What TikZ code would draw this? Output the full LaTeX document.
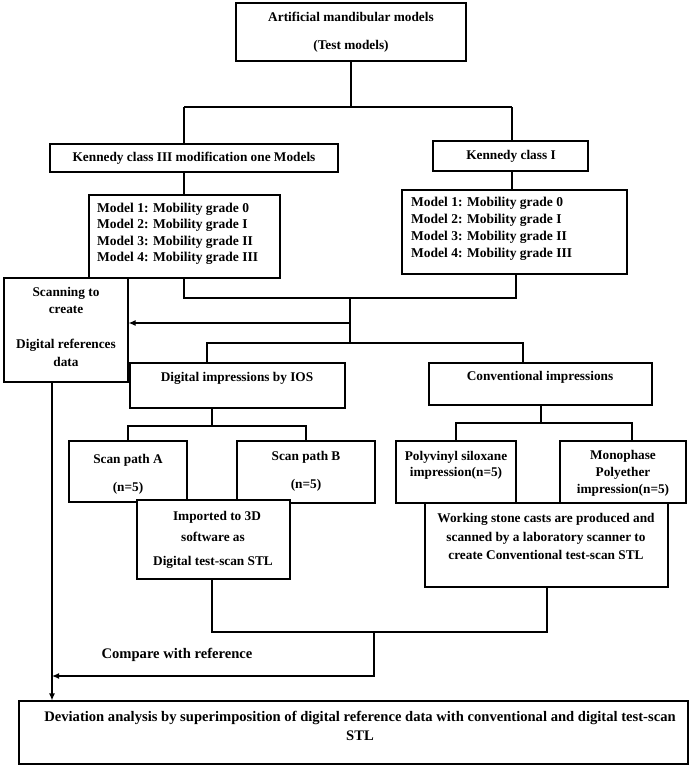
\documentclass[tikz,border=0pt]{standalone}
\usepackage{fontspec}
\setmainfont{Liberation Serif}
\usetikzlibrary{arrows.meta}
\begin{document}
\begin{tikzpicture}[x=1bp,y=-1bp,
  box/.style={draw=black, line width=1.2bp, fill=white, inner sep=0pt},
  txt/.style={font=\fontsize{13.3bp}{16bp}\selectfont\bfseries, inner sep=0pt, align=center},
  big/.style={font=\fontsize{14.6bp}{19bp}\selectfont\bfseries, inner sep=0pt, align=center},
  txl/.style={font=\fontsize{13.5bp}{16.5bp}\selectfont\bfseries, inner sep=0pt, align=left, anchor=west},
  ln/.style={draw=black, line width=1.2bp},
  arr/.style={draw=black, line width=1.2bp, -{Latex[length=7bp,width=6bp]}}]
\useasboundingbox[fill=white] (0,0) rectangle (692,772);

% ---- boxes ----
\node[box, minimum width=230bp, minimum height=58bp] (top) at (351,32) {};
\node[box, minimum width=288bp, minimum height=28bp] (kiii) at (194,158) {};
\node[box, minimum width=155bp, minimum height=30bp] (ki) at (510.5,156) {};
\node[box, minimum width=191bp, minimum height=83bp] (ml) at (184.5,236.5) {};
\node[box, minimum width=225bp, minimum height=84bp] (mr) at (514.5,232) {};
\node[box, minimum width=124bp, minimum height=104bp] (scan) at (66,330) {};
\node[box, minimum width=215bp, minimum height=45bp] (di) at (237.5,385.5) {};
\node[box, minimum width=223bp, minimum height=42bp] (ci) at (540.5,384) {};
\node[box, minimum width=118bp, minimum height=61bp] (sa) at (128,471.5) {};
\node[box, minimum width=138bp, minimum height=62bp] (sb) at (306,472) {};
\node[box, minimum width=120bp, minimum height=62bp] (pvs) at (456,472) {};
\node[box, minimum width=126bp, minimum height=62bp] (mono) at (623,472) {};
\node[box, minimum width=153bp, minimum height=79bp] (imp) at (213.5,539.5) {};
\node[box, minimum width=243bp, minimum height=84bp] (work) at (546.5,545) {};
\node[box, minimum width=669bp, minimum height=63bp] (final) at (353.5,732.5) {};

% ---- texts ----
\node[txt] (t1) at (351,17) {Artificial mandibular models};
\node[txt] (t2) at (351,46) {(Test models)};
\node[txt] (tkiii) at (194,158) {Kennedy class III modification one Models};
\node[txt] (tki) at (511,156) {Kennedy class I};
\node[txl] (tml) at (97,234) {Model 1: Mobility grade 0\\Model 2: Mobility grade I\\Model 3: Mobility grade II\\Model 4: Mobility grade III};
\node[txl, font=\fontsize{13.5bp}{17bp}\selectfont\bfseries] (tmr) at (411,228.5) {Model 1: Mobility grade 0\\Model 2: Mobility grade I\\Model 3: Mobility grade II\\Model 4: Mobility grade III};
\node[txt] (ts1) at (66,293) {Scanning to};
\node[txt] (ts2) at (66,310) {create};
\node[txt] (ts3) at (66,345) {Digital references};
\node[txt] (ts4) at (66,362) {data};
\node[txt] (tdi) at (237,378) {Digital impressions by IOS};
\node[txt] (tci) at (540,377) {Conventional impressions};
\node[txt] (tsa1) at (128,460) {Scan path A};
\node[txt] (tsa2) at (128,488) {(n=5)};
\node[txt] (tsb1) at (306,457) {Scan path B};
\node[txt] (tsb2) at (306,485) {(n=5)};
\node[txt] (tp1) at (456,457) {Polyvinyl siloxane};
\node[txt] (tp2) at (456,473) {impression(n=5)};
\node[txt] (tm1) at (623,456) {Monophase};
\node[txt] (tm2) at (623,473) {Polyether};
\node[txt] (tm3) at (623,490) {impression(n=5)};
\node[txt] (ti1) at (217,517) {Imported to 3D};
\node[txt] (ti2) at (213,537) {software as};
\node[txt] (ti3) at (213,562) {Digital test-scan STL};
\node[txt, font=\fontsize{13.3bp}{18.5bp}\selectfont\bfseries] (tw) at (546,536.5) {Working stone casts are produced and\\scanned by a laboratory scanner to\\create Conventional test-scan STL};
\node[big] (tcmp) at (177,655) {Compare with reference};
\node[big] (tf) at (360,726) {Deviation analysis by superimposition of digital reference data with conventional and digital test-scan\\STL};

% ---- connectors ----
\coordinate (j1) at (351,107);
\coordinate (j1l) at (184,107);
\coordinate (j1r) at (512,107);
\draw[ln] (top.south) -- (j1);
\draw[ln] (j1l) -- (j1r);
\draw[ln] (j1l) -- (j1l |- kiii.north);
\draw[ln] (j1r) -- (j1r |- ki.north);
\draw[ln] (kiii.south -| j1l) -- (ml.north -| j1l);
\draw[ln] (ki.south -| j1r) -- (mr.north -| j1r);

\coordinate (j2l) at (184,298);
\coordinate (j2r) at (516,298);
\coordinate (j2) at (350,298);
\draw[ln] (ml.south -| j2l) -- (j2l) -- (j2r) -- (mr.south -| j2r);
\coordinate (j3) at (350,343);
\draw[ln] (j2) -- (j3);
\coordinate (ja) at (350,323);
\draw[arr] (ja) -- (ja -| scan.east);

\coordinate (j3l) at (207,343);
\coordinate (j3r) at (523,343);
\draw[ln] (di.north -| j3l) -- (j3l) -- (j3r) -- (ci.north -| j3r);

\coordinate (j4) at (212,426);
\coordinate (j4l) at (128,426);
\coordinate (j4r) at (306,426);
\draw[ln] (di.south -| j4) -- (j4);
\draw[ln] (sa.north -| j4l) -- (j4l) -- (j4r) -- (sb.north -| j4r);

\coordinate (j5) at (541,423);
\coordinate (j5l) at (456,423);
\coordinate (j5r) at (632,423);
\draw[ln] (ci.south -| j5) -- (j5);
\draw[ln] (pvs.north -| j5l) -- (j5l) -- (j5r) -- (mono.north -| j5r);

\coordinate (j6l) at (212,632);
\coordinate (j6r) at (547,632);
\draw[ln] (imp.south -| j6l) -- (j6l) -- (j6r) -- (work.south -| j6r);
\coordinate (j7) at (374,632);
\coordinate (j7b) at (374,676);
\coordinate (j7e) at (52,676);
\draw[arr] (j7) -- (j7b) -- (j7e);
\draw[arr] (scan.south -| j7e) -- (final.north -| j7e);
\end{tikzpicture}
\end{document}
